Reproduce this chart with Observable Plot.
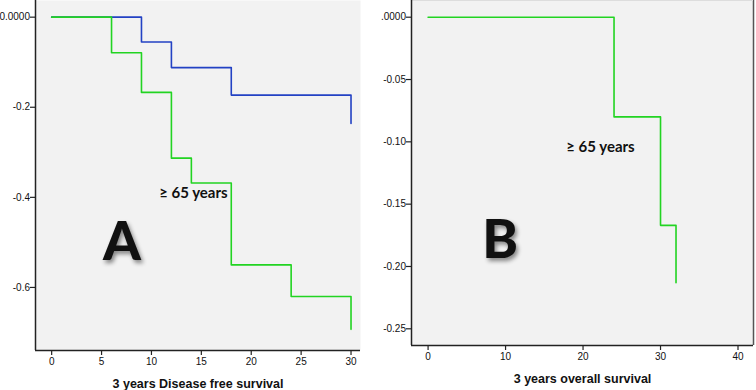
<!DOCTYPE html>
<html>
<head>
<meta charset="utf-8">
<script src="https://cdn.jsdelivr.net/npm/d3@7"></script>
<script src="https://cdn.jsdelivr.net/npm/@observablehq/plot@0.6"></script>
<style>
  html, body { margin: 0; padding: 0; background: #fff; }
  #wrap { position: relative; width: 756px; height: 390px; overflow: hidden; }
  .panel { position: absolute; top: 0; }
  .big-letter { filter: drop-shadow(2px 3px 2px rgba(0,0,0,0.45)); }
</style>
</head>
<body>
<div id="wrap">
  <div id="panelA" class="panel" style="left:0px"></div>
  <div id="panelB" class="panel" style="left:378px"></div>
</div>
<script>
// Panel A: disease-free survival, two age groups
const dfsTimeOld = [0, 6, 9, 12, 14, 18, 24, 30];
const dfsValueOld = [0, -0.079, -0.167, -0.313, -0.368, -0.55, -0.62, -0.693];
const dfsTimeYoung = [0, 9, 12, 18, 30];
const dfsValueYoung = [0, -0.055, -0.112, -0.173, -0.236];
const dfsYTicks = [0, -0.2, -0.4, -0.6];
const dfsYLabels = ["0.0000", "-0.2", "-0.4", "-0.6"];
const dfsXTicks = [0, 5, 10, 15, 20, 25, 30];

// Panel B: overall survival, patients aged 65 and over
const osTimeOld = [0, 24, 30, 32];
const osValueOld = [0, -0.08, -0.167, -0.213];
const osYTicks = [0, -0.05, -0.10, -0.15, -0.20, -0.25];
const osYLabels = [".0000", "-0.05", "-0.10", "-0.15", "-0.20", "-0.25"];
const osXTicks = [0, 10, 20, 30, 40];

const groupLabel = "≥ 65 years";

const GREEN = "#22d422";
const BLUE = "#2342c4";
const FILL = "#f2f2f2";
const AXIS = "#222";

const toRows = (t, v) => t.map((d, i) => ({time: d, value: v[i]}));

const tickFont = {fontSize: 10, fontFamily: "Liberation Sans, Arial, sans-serif", fill: "#111"};

function panel({width, height, margins, xDomain, yDomain, xTicks, yTicks, yLabels, xTitle, series, annotations, rightEdge}) {
  return Plot.plot({
    width, height,
    ...margins,
    style: {background: "transparent", fontFamily: "Liberation Sans, Arial, sans-serif", overflow: "visible"},
    x: {domain: xDomain},
    y: {domain: yDomain},
    marks: [
      Plot.frame({fill: FILL, stroke: null}),
      // top and right borders of the plotting area
      rightEdge ? Plot.ruleX([xDomain[1]], {stroke: "#555", strokeWidth: 1.5}) : null,
      rightEdge ? Plot.ruleY([yDomain[1]], {stroke: "#ddd", strokeWidth: 1}) : null,
      // axis lines along the left and bottom
      Plot.ruleX([xDomain[0]], {stroke: AXIS, strokeWidth: 1.5}),
      Plot.ruleY([yDomain[0]], {stroke: AXIS, strokeWidth: 1.5}),
      Plot.axisY({
        ticks: yTicks, tickSize: 5, tickPadding: 0.5, stroke: AXIS, strokeWidth: 1.2,
        tickFormat: (d) => yLabels[yTicks.indexOf(d)], label: null, ...tickFont
      }),
      Plot.axisX({
        ticks: xTicks, tickSize: 5, tickPadding: 2, stroke: AXIS, strokeWidth: 1.2,
        label: null, ...tickFont
      }),
      ...series.map((s) => Plot.line(s.rows, {x: "time", y: "value", curve: "step-after", stroke: s.color, strokeWidth: 1.6})),
      ...annotations.map((a) => Plot.text([a], {
        x: "x", y: "y", text: "text", fontSize: a.size, fontWeight: a.weight,
        fontFamily: "Lato, 'Open Sans', sans-serif", fill: "#111",
        className: a.big ? "big-letter" : undefined
      })),
      Plot.text([xTitle], {
        frameAnchor: "bottom", dy: xTitle.dy, text: "text",
        fontSize: 12.5, fontWeight: "bold", fill: "#111", lineAnchor: "middle"
      })
    ]
  });
}

const chartA = panel({
  width: 378, height: 390,
  margins: {marginLeft: 35, marginRight: 18, marginTop: 0, marginBottom: 40},
  xDomain: [-1.62, 30.95],
  yDomain: [-0.74, 0.037],
  xTicks: dfsXTicks, yTicks: dfsYTicks, yLabels: dfsYLabels,
  xTitle: {text: "3 years Disease free survival", dy: 33},
  series: [
    {rows: toRows(dfsTimeYoung, dfsValueYoung), color: BLUE},
    {rows: toRows(dfsTimeOld, dfsValueOld), color: GREEN}
  ],
  annotations: [
    {x: 14.2, y: -0.391, text: groupLabel, size: 15, weight: "bold"},
    {x: 7.04, y: -0.5, text: "A", size: 54, weight: 900, big: true}
  ]
});

const chartB = panel({
  width: 378, height: 390,
  margins: {marginLeft: 33, marginRight: 3, marginTop: 0, marginBottom: 45},
  xDomain: [-2.14, 42.0],
  yDomain: [-0.2634, 0.0134],
  xTicks: osXTicks, yTicks: osYTicks, yLabels: osYLabels,
  xTitle: {text: "3 years overall survival", dy: 33},
  series: [
    {rows: toRows(osTimeOld, osValueOld), color: GREEN}
  ],
  annotations: [
    {x: 22.25, y: -0.104, text: groupLabel, size: 15, weight: "bold"},
    {x: 9.3, y: -0.179, text: "B", size: 54, weight: 900, big: true}
  ],
  rightEdge: true
});

document.getElementById("panelA").append(chartA);
document.getElementById("panelB").append(chartB);
</script>
</body>
</html>
